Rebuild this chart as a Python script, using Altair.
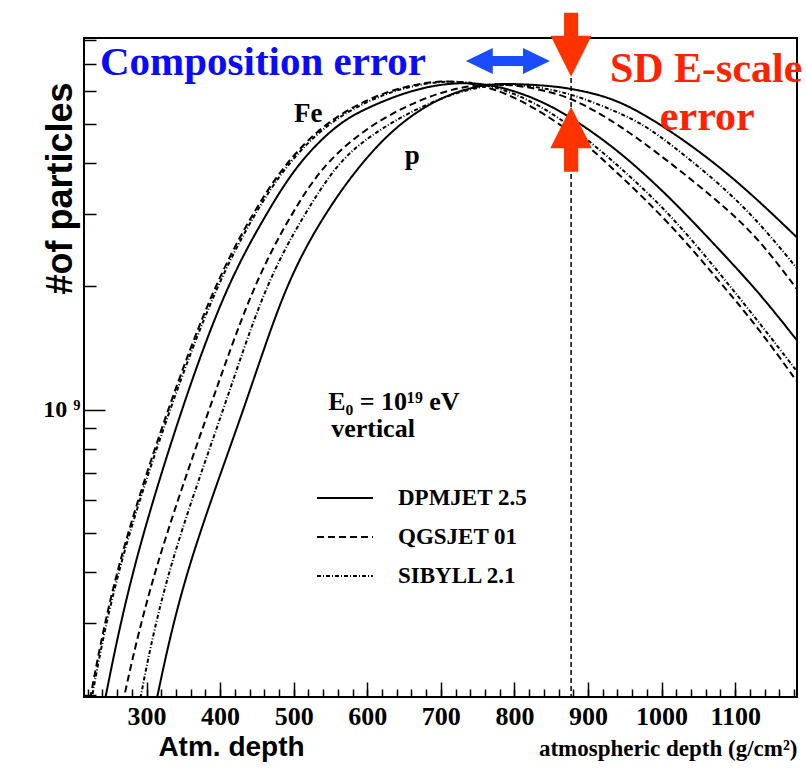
import altair as alt
import pandas as pd

# ---------------- data ----------------
MODELS = ["DPMJET 2.5", "QGSJET 01", "SIBYLL 2.1"]

# Fe primaries
fe_qgsjet_depth = [218, 224, 256, 328, 391, 443, 488, 541, 600, 650, 700, 750, 800, 850, 889, 943, 1011, 1079, 1133.5, 1185]
fe_qgsjet_log10n = [8.24, 8.301, 8.602, 9.0, 9.301, 9.477, 9.602, 9.699, 9.76, 9.79, 9.806, 9.797, 9.766, 9.712, 9.663, 9.574, 9.456, 9.313, 9.195, 9.066]

fe_sibyll_depth = [220, 226, 258, 330.6, 394, 446, 491, 545, 600, 650, 700, 750, 800, 850, 889, 943, 1011, 1079, 1133.5, 1185]
fe_sibyll_log10n = [8.24, 8.301, 8.602, 9.0, 9.301, 9.477, 9.602, 9.699, 9.755, 9.788, 9.804, 9.800, 9.775, 9.727, 9.6755, 9.594, 9.48, 9.333, 9.211, 9.091]

fe_dpmjet_depth = [238, 244.6, 278.5, 346.5, 407.6, 462, 505, 559, 600, 650, 700, 750, 800, 850, 889, 943, 1011, 1079, 1133.5, 1185]
fe_dpmjet_log10n = [8.24, 8.301, 8.602, 9.0, 9.301, 9.477, 9.602, 9.699, 9.738, 9.775, 9.797, 9.800, 9.781, 9.743, 9.700, 9.631, 9.52, 9.39, 9.284, 9.167]

# proton primaries
p_qgsjet_depth = [262, 269.4, 308, 385, 443.7, 496, 541, 600, 650, 700, 750, 800, 850, 889, 961, 1079, 1133.5, 1185]
p_qgsjet_log10n = [8.23, 8.301, 8.602, 9.0, 9.301, 9.477, 9.602, 9.69, 9.74, 9.777, 9.796, 9.795, 9.777, 9.753, 9.676, 9.508, 9.415, 9.292]

p_sibyll_depth = [285, 292, 326, 405, 459.6, 514, 559, 600, 650, 700, 750, 800, 850, 889, 950, 988.5, 1079, 1133.5, 1185]
p_sibyll_log10n = [8.23, 8.301, 8.602, 9.0, 9.301, 9.477, 9.602, 9.665, 9.72, 9.762, 9.79, 9.797, 9.783, 9.765, 9.72, 9.684, 9.553, 9.456, 9.343]

p_dpmjet_depth = [308, 314.7, 351, 433, 486.7, 541, 591, 642, 700, 750, 785, 850, 889, 943, 1011, 1079, 1133.5, 1185]
p_dpmjet_log10n = [8.24, 8.301, 8.602, 9.0, 9.301, 9.477, 9.602, 9.699, 9.765, 9.792, 9.798, 9.792, 9.781, 9.757, 9.684, 9.594, 9.508, 9.419]

# axis ticks
x_major_ticks = [300, 400, 500, 600, 700, 800, 900, 1000, 1100]
x_minor_ticks = list(range(220, 1181, 20))
y_major_ticks = [1e9]
y_minor_ticks = [2e8, 3e8, 4e8, 5e8, 6e8, 7e8, 8e8, 9e8, 2e9, 3e9, 4e9, 5e9, 6e9, 7e9, 8e9]

# surface detector reference depth (dashed line)
sd_depth = [877]

# annotation anchors (depth, log10 N)
note_text = ["Composition error", "SD E-scale", "error", "Fe", "p", "E\u2080 = 10\u00b9\u2079 eV", "vertical"]
note_depth = [236.7, 929.7, 997.6, 500.3, 651.0, 546.8, 550.9]
note_log10n = [9.818, 9.801, 9.6836, 9.703, 9.6005, 8.999, 8.933]

arrow_depth = [877, 877, 791.1]      # SD down arrow, SD up arrow, composition double arrow
arrow_log10n = [9.892, 9.661, 9.8523]

# ---------------- build table ----------------
curve_table = [
    ("DPMJET 2.5", "Fe", fe_dpmjet_depth, fe_dpmjet_log10n),
    ("QGSJET 01", "Fe", fe_qgsjet_depth, fe_qgsjet_log10n),
    ("SIBYLL 2.1", "Fe", fe_sibyll_depth, fe_sibyll_log10n),
    ("DPMJET 2.5", "p", p_dpmjet_depth, p_dpmjet_log10n),
    ("QGSJET 01", "p", p_qgsjet_depth, p_qgsjet_log10n),
    ("SIBYLL 2.1", "p", p_sibyll_depth, p_sibyll_log10n),
]
rows = []
for model, primary, depths, logs in curve_table:
    for d, l in zip(depths, logs):
        rows.append({"model": model, "primary": primary, "depth": d, "particles": 10 ** l})
df = pd.DataFrame(rows)

SERIF = "Liberation Serif"
SANS = "Liberation Sans"

xscale = alt.Scale(domain=[215, 1184], nice=False, zero=False)
yscale = alt.Scale(type="log", domain=[1.983e8, 8.10e9], nice=False)

axis_x_major = alt.Axis(
    orient="bottom", values=x_major_ticks, tickSize=15, offset=-15, domain=False, grid=False,
    tickColor="black", tickWidth=1.5, format="d",
    labelFont=SERIF, labelFontWeight="bold", labelFontSize=26, labelColor="black", labelPadding=6,
    title="atmospheric depth (g/cm\u00b2)", titleFont=SERIF, titleFontWeight="bold", titleFontSize=23,
    titleColor="black", titleX=713, titleY=73, titleAlign="right", titleBaseline="alphabetic",
)
axis_x_minor = alt.Axis(
    orient="bottom", values=x_minor_ticks, tickSize=8, offset=-8, domain=False, grid=False,
    tickColor="black", tickWidth=1.5, labels=False,
    title="Atm. depth", titleFont=SANS, titleFontWeight="bold", titleFontSize=28,
    titleColor="black", titleX=147, titleY=66, titleAlign="center", titleBaseline="alphabetic",
)
axis_y_major = alt.Axis(
    orient="left", values=y_major_ticks, tickSize=21, offset=-21, domain=False, grid=False,
    tickColor="black", tickWidth=1.5, labelExpr="'10 \u2079'",
    labelFont=SERIF, labelFontWeight="bold", labelFontSize=24, labelColor="black", labelPadding=4,
    title="#of particles", titleFont=SANS, titleFontWeight="bold", titleFontSize=36,
    titleColor="black", titleAngle=270, titleX=-45, titleY=150, titleAlign="center",
    titleBaseline="middle",
)
axis_y_minor = alt.Axis(
    orient="left", values=y_minor_ticks, tickSize=12, offset=-12, domain=False, grid=False,
    tickColor="black", tickWidth=1.5, labels=False, title=None,
)

curves = alt.Chart(df).mark_line(
    color="black", strokeWidth=2, interpolate="basis", clip=True
).encode(
    x=alt.X("depth:Q", scale=xscale, axis=axis_x_major),
    y=alt.Y("particles:Q", scale=yscale, axis=axis_y_major),
    strokeDash=alt.StrokeDash(
        "model:N",
        scale=alt.Scale(domain=MODELS, range=[[1, 0], [7, 4], [4, 2, 1, 2]]),
        legend=alt.Legend(
            title=None, orient="none", direction="vertical", legendX=246, legendY=445,
            symbolType="M-2,0H2", symbolSize=784, symbolStrokeWidth=2, symbolStrokeColor="black",
            labelFont=SERIF, labelFontWeight="bold", labelFontSize=23, labelColor="black",
            labelOffset=38, rowPadding=12, padding=0,
        ),
    ),
    detail="primary:N",
)

rule = alt.Chart(pd.DataFrame({"depth": sd_depth})).mark_rule(
    color="black", strokeDash=[5, 3], strokeWidth=1.5
).encode(x=alt.X("depth:Q", scale=xscale, axis=axis_x_minor))

DOWN = "M-0.22,-1L0.22,-1L0.22,-0.28L0.64,-0.28L0,1L-0.64,-0.28L-0.22,-0.28Z"
UP = "M-0.22,1L0.22,1L0.22,0.28L0.64,0.28L0,-1L-0.64,0.28L-0.22,0.28Z"
BOTH = "M-1,0L-0.36,-0.31L-0.36,-0.12L0.36,-0.12L0.36,-0.31L1,0L0.36,0.31L0.36,0.12L-0.36,0.12L-0.36,0.31Z"


def arrow(i, shape, size, color, yaxis=None):
    data = pd.DataFrame({"depth": [arrow_depth[i]], "particles": [10 ** arrow_log10n[i]]})
    return alt.Chart(data).mark_point(
        shape=shape, size=size, filled=True, color=color, opacity=1, strokeWidth=0
    ).encode(
        x=alt.X("depth:Q", scale=xscale, axis=None),
        y=alt.Y("particles:Q", scale=yscale, axis=yaxis),
    )


def note(i, size, color):
    data = pd.DataFrame({"depth": [note_depth[i]], "particles": [10 ** note_log10n[i]], "label": [note_text[i]]})
    return alt.Chart(data).mark_text(
        align="left", baseline="alphabetic", font=SERIF, fontWeight="bold", fontSize=size, color=color
    ).encode(
        x=alt.X("depth:Q", scale=xscale, axis=None),
        y=alt.Y("particles:Q", scale=yscale, axis=None),
        text="label:N",
    )


RED = "#ff3300"
layers = [
    rule,
    curves,
    arrow(0, DOWN, 4096, RED, axis_y_minor),
    arrow(1, UP, 4225, RED),
    arrow(2, BOTH, 7056, "#1a4cff"),
    note(0, 41, "#0a0aff"),
    note(1, 42, "#ff2200"),
    note(2, 42, "#ff2200"),
    note(3, 27, "black"),
    note(4, 27, "black"),
    note(5, 26, "black"),
    note(6, 26, "black"),
]

chart = alt.layer(*layers).resolve_axis(x="independent", y="independent").properties(
    width=713, height=659,
    autosize=alt.AutoSizeParams(type="none"),
    padding={"left": 84, "top": 38, "right": 9, "bottom": 71},
    background="white",
).configure_view(stroke="black", strokeWidth=2)

chart.save("out.html", embed_options={"renderer": "svg", "actions": False})
